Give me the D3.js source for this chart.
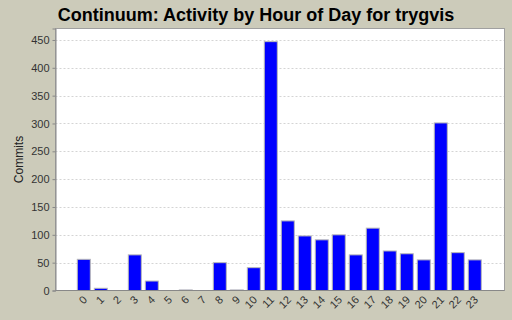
<!DOCTYPE html>
<html>
<head>
<meta charset="utf-8">
<script src="https://cdn.jsdelivr.net/npm/d3@7"></script>
<style>
  body { margin: 0; background: #cccbba; }
  text { font-family: "Liberation Sans", Arial, sans-serif; }
</style>
</head>
<body>
<svg id="chart" width="512" height="320"></svg>
<script>
// hours of day and commit counts
var hours = ['0','1','2','3','4','5','6','7','8','9','10','11','12','13','14','15','16','17','18','19','20','21','22','23'];
var commits = [56, 4, 0, 64, 17, 0, 1, 0, 50, 1, 41, 447, 125, 98, 91, 100, 64, 112, 71, 66, 55, 301, 68, 55];
var yTicks = [0, 50, 100, 150, 200, 250, 300, 350, 400, 450];

var svg = d3.select('#chart');

var plot = { left: 55.5, right: 504.5, top: 28.5, bottom: 290.5 };

var x = d3.scaleBand()
  .domain(hours)
  .range([75.3, 483.3])
  .paddingInner(0.235)
  .paddingOuter(0.118);

var y = d3.scaleLinear()
  .domain([0, 470.6])
  .range([plot.bottom, plot.top]);

// plot background
svg.append('rect')
  .attr('x', plot.left)
  .attr('y', plot.top)
  .attr('width', plot.right - plot.left)
  .attr('height', plot.bottom - plot.top)
  .attr('fill', '#ffffff');

// gridlines
svg.append('g')
  .selectAll('line')
  .data(yTicks.filter(function (d) { return d > 0; }))
  .enter()
  .append('line')
  .attr('x1', plot.left)
  .attr('x2', plot.right)
  .attr('y1', function (d) { return Math.round(y(d)) + 0.5; })
  .attr('y2', function (d) { return Math.round(y(d)) + 0.5; })
  .attr('stroke', '#d4d4d4')
  .attr('stroke-dasharray', '2,2');

// bars
svg.append('g')
  .selectAll('rect')
  .data(commits)
  .enter()
  .append('rect')
  .attr('x', function (d, i) { return x(hours[i]); })
  .attr('y', function (d) { return y(d); })
  .attr('width', x.bandwidth())
  .attr('height', function (d) { return y(0) - y(d); })
  .attr('fill', '#0000ff')
  .attr('stroke', '#b8b8b8')
  .attr('stroke-width', 1);

// plot border (right + top lighter, axes darker)
svg.append('rect')
  .attr('x', plot.left)
  .attr('y', plot.top)
  .attr('width', plot.right - plot.left)
  .attr('height', plot.bottom - plot.top)
  .attr('fill', 'none')
  .attr('stroke', '#a0a0a0');

// y axis
var yAxis = svg.append('g')
  .attr('transform', 'translate(' + plot.left + ',0)')
  .call(d3.axisLeft(y).tickValues(yTicks).tickSize(3).tickPadding(3));
yAxis.select('.domain').attr('stroke', '#888888');
yAxis.selectAll('.tick line').attr('stroke', '#888888');
yAxis.selectAll('.tick text')
  .attr('font-size', '11px')
  .attr('fill', '#333333')
  .attr('font-family', '"Liberation Sans", Arial, sans-serif');

// x axis
var xAxis = svg.append('g')
  .attr('transform', 'translate(0,' + plot.bottom + ')')
  .call(d3.axisBottom(x).tickSize(0).tickPadding(0));
xAxis.select('.domain').attr('stroke', '#888888').attr('d', 'M' + plot.left + ',0H' + plot.right);
xAxis.selectAll('.tick text')
  .attr('font-size', '11px')
  .attr('fill', '#333333')
  .attr('font-family', '"Liberation Sans", Arial, sans-serif')
  .attr('text-anchor', 'end')
  .attr('dy', null)
  .attr('y', 0)
  .attr('transform', 'translate(4,10) rotate(-45)');

// axis label
svg.append('text')
  .attr('transform', 'translate(23,' + (plot.top + plot.bottom) / 2 + ') rotate(-90)')
  .attr('text-anchor', 'middle')
  .attr('font-size', '12px')
  .attr('fill', '#222222')
  .text('Commits');

// title
svg.append('text')
  .attr('x', 256)
  .attr('y', 21)
  .attr('text-anchor', 'middle')
  .attr('font-size', '18px')
  .attr('font-weight', 'bold')
  .attr('fill', '#000000')
  .text('Continuum: Activity by Hour of Day for trygvis');
</script>
</body>
</html>
